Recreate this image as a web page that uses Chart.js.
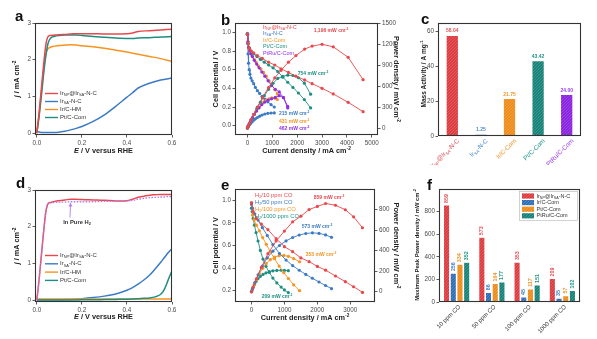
<!DOCTYPE html>
<html>
<head>
<meta charset="utf-8">
<title>Ir catalysts: HOR activity and fuel-cell performance</title>
<script src="https://cdn.jsdelivr.net/npm/chart.js@4.4.1/dist/chart.umd.min.js"></script>
<style>
  html, body { margin: 0; padding: 0; background: #fff; }
  #fig { position: relative; width: 597px; height: 339px; overflow: hidden; background: #fff; }
  #fig canvas { position: absolute; }
</style>
</head>
<body>
<div id="fig">
  <canvas id="cvA" width="200" height="165" style="left:0px;top:0px"></canvas>
  <canvas id="cvB" width="203" height="165" style="left:200px;top:0px"></canvas>
  <canvas id="cvC" width="197" height="165" style="left:400px;top:0px"></canvas>
  <canvas id="cvD" width="200" height="174" style="left:0px;top:165px"></canvas>
  <canvas id="cvE" width="203" height="174" style="left:200px;top:165px"></canvas>
  <canvas id="cvF" width="197" height="174" style="left:400px;top:165px"></canvas>
</div>
<script>
// ---------------- series names ----------------
const hmNames   = ['Ir_{NP}@Ir_{SA}-N-C', 'Ir_{SA}-N-C', 'Ir/C-HM', 'Pt/C-Com'];
const cellNames = ['Ir_{NP}@Ir_{SA}-N-C', 'Ir_{SA}-N-C', 'Ir/C-Com', 'Pt/C-Com', 'PtRu/C-Com'];
const coNames   = ['H_{2}/10 ppm CO', 'H_{2}/50 ppm CO', 'H_{2}/100 ppm CO', 'H_{2}/1000 ppm CO'];
const coCats    = ['10 ppm CO', '50 ppm CO', '100 ppm CO', '1000 ppm CO'];
const peakNames = ['Ir_{NP}@Ir_{SA}-N-C', 'Ir/C-Com', 'Pt/C-Com', 'PtRu/C-Com'];

// ---------------- (a) HOR polarisation in pure H2 ----------------
const aE      = [0, 0.01, 0.02, 0.03, 0.04, 0.05, 0.06, 0.08, 0.10, 0.125, 0.15, 0.175, 0.20, 0.25, 0.30, 0.35, 0.40, 0.425, 0.45, 0.50, 0.55, 0.60];
const aIrNP   = [0, 0.55, 1.20, 1.85, 2.40, 2.63, 2.66, 2.67, 2.68, 2.69, 2.70, 2.71, 2.71, 2.71, 2.70, 2.70, 2.71, 2.73, 2.77, 2.79, 2.81, 2.83];
const aIrSA   = [0.05, 0.03, 0.02, 0.02, 0.02, 0.02, 0.02, 0.02, 0.03, 0.05, 0.09, 0.13, 0.18, 0.32, 0.50, 0.73, 0.98, 1.10, 1.23, 1.36, 1.45, 1.50];
const aIrCHM  = [0, 0.50, 1.10, 1.70, 2.15, 2.30, 2.34, 2.37, 2.39, 2.40, 2.41, 2.40, 2.38, 2.35, 2.31, 2.26, 2.21, 2.18, 2.15, 2.09, 2.03, 1.95];
const aPtC    = [0, 0.45, 1.00, 1.60, 2.10, 2.45, 2.58, 2.64, 2.66, 2.67, 2.67, 2.67, 2.66, 2.63, 2.61, 2.59, 2.58, 2.58, 2.59, 2.60, 2.62, 2.63];
const aXTicks = [0, 0.2, 0.4, 0.6];
const aYTicks = [0, 1, 2, 3];

// ---------------- (b) H2-O2 single cell: polarisation + power ----------------
const bRedI    = [0, 30, 80, 150, 250, 400, 600, 850, 1100, 1350, 1650, 1950, 2300, 2600, 3000, 3450, 4050, 4650];
const bRedV    = [0.98, 0.88, 0.83, 0.80, 0.78, 0.75, 0.72, 0.68, 0.65, 0.61, 0.57, 0.53, 0.49, 0.45, 0.40, 0.34, 0.25, 0.15];
const bRedP    = [0, 26, 66, 120, 195, 300, 432, 578, 715, 824, 940, 1034, 1127, 1170, 1196, 1160, 1010, 690];
const bBlueI   = [0, 10, 25, 45, 70, 100, 140, 190, 250, 320, 400, 490, 590, 700, 820, 950, 1080];
const bBlueV   = [0.99, 0.88, 0.77, 0.67, 0.60, 0.55, 0.51, 0.48, 0.45, 0.41, 0.375, 0.345, 0.315, 0.285, 0.255, 0.225, 0.20];
const bBlueP   = [0, 9, 19, 30, 42, 55, 71, 91, 112, 131, 150, 169, 186, 200, 209, 214, 215];
const bOrangeI = [0, 20, 50, 90, 140, 200, 270, 350, 440, 540, 650, 760, 870, 980, 1100, 1200];
const bOrangeV = [0.98, 0.90, 0.84, 0.80, 0.77, 0.74, 0.71, 0.68, 0.64, 0.61, 0.57, 0.53, 0.48, 0.44, 0.385, 0.34];
const bOrangeP = [0, 18, 42, 72, 108, 148, 192, 238, 282, 329, 371, 403, 418, 431, 424, 408];
const bTealI   = [0, 30, 80, 150, 250, 380, 520, 680, 850, 1030, 1220, 1420, 1620, 1830, 2050, 2290, 2540];
const bTealV   = [0.98, 0.88, 0.83, 0.80, 0.77, 0.74, 0.71, 0.68, 0.65, 0.62, 0.58, 0.52, 0.465, 0.41, 0.35, 0.28, 0.19];
const bTealP   = [0, 26, 66, 120, 193, 281, 369, 462, 553, 639, 708, 738, 754, 750, 718, 641, 483];
const bPurpI   = [0, 20, 50, 90, 140, 200, 280, 370, 470, 580, 700, 830, 970, 1120, 1280, 1450, 1620];
const bPurpV   = [0.98, 0.90, 0.84, 0.80, 0.77, 0.74, 0.70, 0.66, 0.62, 0.575, 0.53, 0.48, 0.43, 0.39, 0.361, 0.30, 0.19];
const bPurpP   = [0, 18, 42, 72, 108, 148, 196, 244, 291, 334, 371, 398, 417, 437, 462, 435, 308];
const bXTicks  = [0, 1000, 2000, 3000, 4000, 5000];
const bVTicks  = [0, 0.2, 0.4, 0.6, 0.8, 1.0];
const bPTicks  = [0, 300, 600, 900, 1200, 1500];

// ---------------- (c) mass activity ----------------
const cCats   = ['Ir_{NP}@Ir_{SA}-N-C', 'Ir_{SA}-N-C', 'Ir/C-Com', 'Pt/C-Com', 'PtRu/C-Com'];
const cValues = [58.04, 1.25, 21.75, 43.42, 24.00];
const cYTicks = [0, 20, 40, 60];

// ---------------- (d) HOR polarisation with CO ----------------
const dE      = [0, 0.01, 0.02, 0.03, 0.04, 0.05, 0.06, 0.08, 0.10, 0.125, 0.15, 0.175, 0.20, 0.25, 0.30, 0.35, 0.40, 0.425, 0.45, 0.475, 0.50, 0.525, 0.55, 0.565, 0.58, 0.59, 0.60];
const dIrNP   = [0, 0.55, 1.20, 1.85, 2.40, 2.63, 2.66, 2.69, 2.71, 2.73, 2.75, 2.75, 2.74, 2.73, 2.72, 2.70, 2.71, 2.75, 2.80, 2.83, 2.86, 2.87, 2.88, 2.88, 2.88, 2.88, 2.88];
const dPureH2 = [0, 0.55, 1.20, 1.85, 2.40, 2.62, 2.65, 2.66, 2.67, 2.67, 2.68, 2.68, 2.68, 2.68, 2.69, 2.69, 2.70, 2.72, 2.75, 2.77, 2.79, 2.80, 2.81, 2.81, 2.82, 2.82, 2.82];
const dIrSA   = [0.01, 0.01, 0.01, 0.01, 0.01, 0.01, 0.01, 0.01, 0.01, 0.015, 0.02, 0.03, 0.04, 0.07, 0.11, 0.17, 0.27, 0.34, 0.44, 0.55, 0.68, 0.85, 1.03, 1.15, 1.27, 1.34, 1.40];
const dIrCHM  = [0.03, 0.03, 0.03, 0.03, 0.03, 0.03, 0.03, 0.03, 0.03, 0.03, 0.03, 0.03, 0.03, 0.03, 0.03, 0.03, 0.03, 0.03, 0.03, 0.03, 0.03, 0.03, 0.03, 0.03, 0.03, 0.03, 0.03];
const dPtC    = [0, 0.005, 0.005, 0.005, 0.005, 0.005, 0.005, 0.005, 0.005, 0.005, 0.005, 0.005, 0.01, 0.01, 0.015, 0.02, 0.025, 0.03, 0.04, 0.05, 0.06, 0.09, 0.16, 0.28, 0.50, 0.66, 0.80];

// ---------------- (e) Ir_NP@Ir_SA-N-C cell with CO-containing H2 ----------------
const eRedI    = [0, 50, 150, 300, 500, 750, 1000, 1250, 1500, 1750, 2000, 2250, 2550, 2850, 3100, 3370];
const eRedV    = [0.98, 0.90, 0.84, 0.79, 0.74, 0.66, 0.59, 0.545, 0.49, 0.457, 0.415, 0.382, 0.33, 0.28, 0.235, 0.185];
const eRedP    = [0, 45, 126, 237, 370, 495, 590, 680, 735, 800, 830, 859, 842, 798, 729, 623];
const eBlueI   = [0, 30, 100, 200, 330, 480, 650, 850, 1050, 1250, 1450, 1650, 1850, 2050, 2250, 2430];
const eBlueV   = [0.97, 0.93, 0.88, 0.825, 0.758, 0.688, 0.608, 0.529, 0.471, 0.422, 0.381, 0.344, 0.31, 0.277, 0.246, 0.218];
const eBlueP   = [0, 28, 88, 165, 250, 330, 395, 450, 495, 528, 552, 567, 573, 568, 553, 530];
const eOrangeI = [0, 30, 80, 150, 240, 340, 450, 570, 700, 840, 980, 1120, 1280, 1460];
const eOrangeV = [0.96, 0.87, 0.825, 0.78, 0.73, 0.67, 0.61, 0.547, 0.483, 0.418, 0.36, 0.308, 0.252, 0.20];
const eOrangeP = [0, 26, 66, 117, 175, 228, 275, 312, 338, 351, 353, 345, 323, 292];
const eTealI   = [0, 20, 50, 90, 140, 200, 270, 350, 440, 540, 650, 770, 900, 1000, 1120];
const eTealV   = [0.93, 0.90, 0.84, 0.78, 0.714, 0.64, 0.556, 0.48, 0.416, 0.361, 0.312, 0.269, 0.232, 0.207, 0.183];
const eTealP   = [0, 18, 42, 70, 100, 128, 150, 168, 183, 195, 203, 207, 209, 207, 205];
const eXTicks  = [0, 1000, 2000, 3000];
const eVTicks  = [0.2, 0.4, 0.6, 0.8, 1.0];
const ePTicks  = [0, 200, 400, 600, 800];

// ---------------- (f) peak power density vs CO level ----------------
const fIrNP   = [859, 573, 353, 209];
const fIrC    = [256, 86, 45, 35];
const fPtC    = [334, 164, 117, 57];
const fPtRuC  = [352, 177, 151, 102];
const fYTicks = [0, 200, 400, 600, 800];

// ---------------- styling ----------------
const FONT = '"Liberation Sans", Arial, Helvetica, sans-serif';
const INK = '#333333';
const TICK = '#4a4a4a';
const RED = '#e8474c', BLUE = '#3b7bc6', ORANGE = '#f7931e', TEAL = '#1d8f82', PURPLE = '#8f2ee6', LILAC = '#b47cf3';
const BAR = { red: '#dd3c41', blue: '#2f6fb7', orange: '#ee8c1c', teal: '#188378', purple: '#8a24df' };

// panel boxes (page coordinates) and plot areas inside them
const G = {
  a: { box: { x: 0,   y: 0,   w: 200, h: 165 }, area: { l: 35,  t: 23,  r: 172, b: 135 } },
  b: { box: { x: 200, y: 0,   w: 203, h: 165 }, area: { l: 235, t: 23,  r: 378, b: 135 } },
  c: { box: { x: 400, y: 0,   w: 197, h: 165 }, area: { l: 438, t: 23,  r: 581, b: 136 } },
  d: { box: { x: 0,   y: 165, w: 200, h: 174 }, area: { l: 35,  t: 190, r: 172, b: 302 } },
  e: { box: { x: 200, y: 165, w: 203, h: 174 }, area: { l: 235, t: 189, r: 375, b: 302 } },
  f: { box: { x: 400, y: 165, w: 197, h: 174 }, area: { l: 439, t: 189, r: 580, b: 302 } }
};

// ---------------- rich text (sub/superscripts, italics) ----------------
function fontStr(size, bold, italic) {
  return (italic ? 'italic ' : '') + (bold ? 'bold ' : '') + size + 'px ' + FONT;
}
function parseRich(s) {
  const out = []; let buf = ''; let i = 0;
  while (i < s.length) {
    const ch = s[i];
    if ((ch === '_' || ch === '^' || ch === '*') && s[i + 1] === '{') {
      if (buf) { out.push({ t: buf, m: 0 }); buf = ''; }
      const j = s.indexOf('}', i);
      out.push({ t: s.slice(i + 2, j), m: ch === '_' ? 1 : ch === '^' ? 2 : 3 });
      i = j + 1;
    } else { buf += ch; i++; }
  }
  if (buf) out.push({ t: buf, m: 0 });
  return out;
}
function drawRich(ctx, s, x, y, o) {
  const size = o.size || 6, bold = !!o.bold, align = o.align || 'left';
  ctx.save();
  ctx.translate(x, y);
  if (o.rot) ctx.rotate(o.rot);
  ctx.fillStyle = o.color || '#222';
  ctx.textBaseline = 'middle';
  ctx.textAlign = 'left';
  let w = 0;
  const items = parseRich(s).map(sg => {
    const small = sg.m === 1 || sg.m === 2;
    const f = fontStr(small ? size * 0.66 : size, bold, sg.m === 3);
    ctx.font = f;
    const ww = ctx.measureText(sg.t).width;
    const it = { t: sg.t, f, x: w, dy: sg.m === 1 ? size * 0.3 : sg.m === 2 ? -size * 0.34 : 0 };
    w += ww;
    return it;
  });
  const x0 = align === 'center' ? -w / 2 : align === 'right' ? -w : 0;
  items.forEach(it => { ctx.font = it.f; ctx.fillText(it.t, x0 + it.x, it.dy); });
  ctx.restore();
  return w;
}
function letter(ctx, ch, x, y) {
  ctx.save();
  ctx.font = fontStr(15, true, false);
  ctx.fillStyle = '#111';
  ctx.textBaseline = 'alphabetic';
  ctx.fillText(ch, x, y);
  ctx.restore();
}

// ---------------- helpers ----------------
function pts(xs, ys) { return xs.map((x, i) => ({ x: x, y: ys[i] })); }

function axisCommon(ticks, fmt) {
  return {
    grid: { display: true, drawOnChartArea: false, drawTicks: true, tickLength: 2.5, tickColor: INK, tickWidth: 0.8 },
    border: { display: false },
    ticks: { color: TICK, font: { family: FONT, size: 6.3 }, padding: 1.5, autoSkip: false, maxRotation: 0, minRotation: 0, callback: fmt },
    afterBuildTicks: s => { s.ticks = ticks.map(v => ({ value: v })); }
  };
}
function yAxis(pos, min, max, ticks, fmt, width) {
  return Object.assign(axisCommon(ticks, fmt), {
    type: 'linear', position: pos, min: min, max: max,
    afterFit: s => { s.width = width; }
  });
}
function xAxis(min, max, ticks, fmt, height) {
  return Object.assign(axisCommon(ticks, fmt), {
    type: 'linear', position: 'bottom', min: min, max: max,
    afterFit: s => { s.height = height; }
  });
}
function catAxis(height) {
  return {
    type: 'category', position: 'bottom', offset: true,
    grid: { display: false }, border: { display: false },
    ticks: { display: false },
    afterFit: s => { s.height = height; }
  };
}

const framePlugin = {
  id: 'frame',
  afterDraw(chart) {
    const a = chart.chartArea, ctx = chart.ctx;
    ctx.save();
    ctx.strokeStyle = INK;
    ctx.lineWidth = 1.1;
    ctx.strokeRect(Math.round(a.left) + 0.5, Math.round(a.top) + 0.5,
                   Math.round(a.right - a.left) - 1, Math.round(a.bottom - a.top) - 1);
    ctx.restore();
  }
};
function textPlugin(g, draw) {
  return {
    id: 'panelText',
    afterDraw(chart) {
      const ctx = chart.ctx;
      ctx.save();
      ctx.translate(-g.box.x, -g.box.y);
      draw(chart, ctx);
      ctx.restore();
    }
  };
}
function baseOptions(g, scales, hasRight) {
  return {
    responsive: false, animation: false, devicePixelRatio: 1,
    layout: { padding: { left: 0, bottom: 0, top: g.area.t - g.box.y, right: hasRight ? 0 : (g.box.x + g.box.w - g.area.r) } },
    plugins: { legend: { display: false }, tooltip: { enabled: false } },
    scales: scales
  };
}
function texture(color) {
  const c = document.createElement('canvas');
  c.width = 3; c.height = 3;
  const g = c.getContext('2d');
  g.fillStyle = color; g.fillRect(0, 0, 3, 3);
  g.fillStyle = 'rgba(255,255,255,0.16)';
  g.fillRect(0, 0, 1, 1); g.fillRect(2, 1, 1, 1); g.fillRect(1, 2, 1, 1);
  return g.createPattern(c, 'repeat');
}
function smooth(label, xs, ys, color, extra) {
  return Object.assign({
    label: label, data: pts(xs, ys), borderColor: color, backgroundColor: color,
    borderWidth: 1.5, pointRadius: 0, cubicInterpolationMode: 'monotone', fill: false
  }, extra || {});
}
function marked(label, xs, ys, color, axis) {
  return {
    label: label, data: pts(xs, ys), yAxisID: axis, borderColor: color, backgroundColor: color,
    borderWidth: 0.9, pointRadius: 1.6, pointBorderWidth: 0, pointBackgroundColor: color, tension: 0, fill: false
  };
}
function hLegend(ctx, names, colors, x, y0, dy, dashes) {
  names.forEach((n, i) => {
    const y = y0 + i * dy;
    ctx.save();
    ctx.strokeStyle = colors[i]; ctx.lineWidth = 1.4;
    if (dashes && dashes[i]) ctx.setLineDash(dashes[i]);
    ctx.beginPath(); ctx.moveTo(x, y); ctx.lineTo(x + 13, y); ctx.stroke();
    ctx.restore();
    drawRich(ctx, n, x + 15, y, { size: 6, color: '#333' });
  });
}
const f1 = v => v.toFixed(1);
const f0 = v => String(v);
const mw = v => v.toLocaleString('en-US') + ' mW cm^{-2}';

// ---------------- (a) ----------------
new Chart(document.getElementById('cvA'), {
  type: 'line',
  data: { datasets: [
    smooth(hmNames[0], aE, aIrNP, RED),
    smooth(hmNames[3], aE, aPtC, TEAL),
    smooth(hmNames[2], aE, aIrCHM, ORANGE),
    smooth(hmNames[1], aE, aIrSA, BLUE)
  ] },
  options: baseOptions(G.a, {
    x: xAxis(-0.008, 0.6, aXTicks, f1, G.a.box.y + G.a.box.h - G.a.area.b),
    y: yAxis('left', -0.05, 3, aYTicks, f0, G.a.area.l - G.a.box.x)
  }, false),
  plugins: [framePlugin, textPlugin(G.a, (chart, ctx) => {
    letter(ctx, 'a', 15, 21);
    hLegend(ctx, hmNames, [RED, BLUE, ORANGE, TEAL], 45, 93.5, 8);
    drawRich(ctx, '*{E} / V versus RHE', 103.5, 150.5, { size: 7.3, bold: true, align: 'center', color: '#222' });
    drawRich(ctx, '*{j} / mA cm^{-2}', 17, 79, { size: 7.3, bold: true, align: 'center', rot: -Math.PI / 2, color: '#222' });
  })]
});

// ---------------- (b) ----------------
new Chart(document.getElementById('cvB'), {
  type: 'line',
  data: { datasets: [
    marked(cellNames[0], bRedI, bRedV, RED, 'y'),
    marked(cellNames[0], bRedI, bRedP, RED, 'y1'),
    marked(cellNames[3], bTealI, bTealV, TEAL, 'y'),
    marked(cellNames[3], bTealI, bTealP, TEAL, 'y1'),
    marked(cellNames[4], bPurpI, bPurpV, PURPLE, 'y'),
    marked(cellNames[4], bPurpI, bPurpP, PURPLE, 'y1'),
    marked(cellNames[2], bOrangeI, bOrangeV, ORANGE, 'y'),
    marked(cellNames[2], bOrangeI, bOrangeP, ORANGE, 'y1'),
    marked(cellNames[1], bBlueI, bBlueV, BLUE, 'y'),
    marked(cellNames[1], bBlueI, bBlueP, BLUE, 'y1')
  ] },
  options: baseOptions(G.b, {
    x: xAxis(-500, 5250, bXTicks, f0, G.b.box.y + G.b.box.h - G.b.area.b),
    y: yAxis('left', -0.1, 1.1, bVTicks, f1, G.b.area.l - G.b.box.x),
    y1: yAxis('right', -100, 1500, bPTicks, f0, G.b.box.x + G.b.box.w - G.b.area.r)
  }, true),
  plugins: [framePlugin, textPlugin(G.b, (chart, ctx) => {
    letter(ctx, 'b', 221, 25);
    const cols = [RED, BLUE, ORANGE, TEAL, PURPLE];
    cellNames.forEach((n, i) => drawRich(ctx, n, 263, 27 + i * 6.6, { size: 5.5, color: cols[i] }));
    drawRich(ctx, mw(Math.max(...bRedP)), 331, 31, { size: 5, bold: true, color: RED, align: 'center' });
    drawRich(ctx, mw(Math.max(...bTealP)), 313, 74, { size: 5, bold: true, color: TEAL, align: 'center' });
    drawRich(ctx, mw(Math.max(...bBlueP)), 279, 114, { size: 5, bold: true, color: BLUE });
    drawRich(ctx, mw(Math.max(...bOrangeP)), 279, 121.5, { size: 5, bold: true, color: ORANGE });
    drawRich(ctx, mw(Math.max(...bPurpP)), 279, 129, { size: 5, bold: true, color: PURPLE });
    drawRich(ctx, 'Current density / mA cm^{-2}', 306.5, 151, { size: 7.3, bold: true, align: 'center', color: '#222' });
    drawRich(ctx, 'Cell potential / V', 216, 79, { size: 7.3, bold: true, align: 'center', rot: -Math.PI / 2, color: '#222' });
    drawRich(ctx, 'Power density / mW cm^{-2}', 396, 79, { size: 7.3, bold: true, align: 'center', rot: Math.PI / 2, color: '#222' });
  })]
});

// ---------------- (c) ----------------
const cBarCols = [BAR.red, BAR.blue, BAR.orange, BAR.teal, BAR.purple];
const cTextCols = ['#e2545a', '#4d8cd0', '#f0952a', '#1f9486', '#9a3cf0'];
new Chart(document.getElementById('cvC'), {
  type: 'bar',
  data: { labels: cCats, datasets: [{
    label: 'Mass activity', data: cValues,
    backgroundColor: cBarCols.map(texture),
    borderColor: 'rgba(255,255,255,0.35)', borderWidth: 0.8,
    categoryPercentage: 1, barPercentage: 0.45
  }] },
  options: baseOptions(G.c, {
    x: catAxis(G.c.box.y + G.c.box.h - G.c.area.b),
    y: yAxis('left', 0, 65, cYTicks, f0, G.c.area.l - G.c.box.x)
  }, false),
  plugins: [framePlugin, textPlugin(G.c, (chart, ctx) => {
    letter(ctx, 'c', 421, 23.5);
    const meta = chart.getDatasetMeta(0);
    const ox = G.c.box.x, oy = G.c.box.y;
    meta.data.forEach((bar, i) => {
      drawRich(ctx, cValues[i].toFixed(2), bar.x + ox, bar.y + oy - 4, { size: 5, bold: true, color: cTextCols[i], align: 'center' });
      drawRich(ctx, cCats[i], bar.x + ox + 6, chart.chartArea.bottom + oy + 4, { size: 6.3, color: cTextCols[i], align: 'right', rot: -Math.PI / 4 });
    });
    drawRich(ctx, 'Mass Activity / A mg^{-1}', 424, 74, { size: 6.5, bold: true, align: 'center', rot: -Math.PI / 2, color: '#222' });
  })]
});

// ---------------- (d) ----------------
new Chart(document.getElementById('cvD'), {
  type: 'line',
  data: { datasets: [
    smooth('In Pure H2', dE, dPureH2, LILAC, { borderDash: [1.6, 1.4], borderWidth: 1.3 }),
    smooth(hmNames[0], dE, dIrNP, RED),
    smooth(hmNames[3], dE, dPtC, TEAL),
    smooth(hmNames[2], dE, dIrCHM, ORANGE),
    smooth(hmNames[1], dE, dIrSA, BLUE)
  ] },
  options: baseOptions(G.d, {
    x: xAxis(-0.008, 0.6, aXTicks, f1, G.d.box.y + G.d.box.h - G.d.area.b),
    y: yAxis('left', -0.05, 3, aYTicks, f0, G.d.area.l - G.d.box.x)
  }, false),
  plugins: [framePlugin, textPlugin(G.d, (chart, ctx) => {
    letter(ctx, 'd', 16, 188);
    hLegend(ctx, hmNames, [RED, BLUE, ORANGE, TEAL], 45, 255.5, 8.3);
    // arrow pointing to the pure-H2 curve
    ctx.save();
    ctx.strokeStyle = LILAC; ctx.fillStyle = LILAC; ctx.lineWidth = 0.9;
    ctx.beginPath(); ctx.moveTo(70, 217.5); ctx.lineTo(70.5, 205); ctx.stroke();
    ctx.beginPath(); ctx.moveTo(70.5, 202.5); ctx.lineTo(68.6, 206.5); ctx.lineTo(72.4, 206.5); ctx.closePath(); ctx.fill();
    ctx.restore();
    drawRich(ctx, 'In Pure H_{2}', 77, 222, { size: 5.8, bold: true, align: 'center', color: '#333' });
    drawRich(ctx, '*{E} / V versus RHE', 103.5, 317, { size: 7.3, bold: true, align: 'center', color: '#222' });
    drawRich(ctx, '*{j} / mA cm^{-2}', 17, 246, { size: 7.3, bold: true, align: 'center', rot: -Math.PI / 2, color: '#222' });
  })]
});

// ---------------- (e) ----------------
new Chart(document.getElementById('cvE'), {
  type: 'line',
  data: { datasets: [
    marked(coNames[0], eRedI, eRedV, RED, 'y'),
    marked(coNames[0], eRedI, eRedP, RED, 'y1'),
    marked(coNames[1], eBlueI, eBlueV, BLUE, 'y'),
    marked(coNames[1], eBlueI, eBlueP, BLUE, 'y1'),
    marked(coNames[2], eOrangeI, eOrangeV, ORANGE, 'y'),
    marked(coNames[2], eOrangeI, eOrangeP, ORANGE, 'y1'),
    marked(coNames[3], eTealI, eTealV, TEAL, 'y'),
    marked(coNames[3], eTealI, eTealP, TEAL, 'y1')
  ] },
  options: baseOptions(G.e, {
    x: xAxis(-500, 3750, eXTicks, f0, G.e.box.y + G.e.box.h - G.e.area.b),
    y: yAxis('left', 0.1, 1.1, eVTicks, f1, G.e.area.l - G.e.box.x),
    y1: yAxis('right', -100, 1000, ePTicks, f0, G.e.box.x + G.e.box.w - G.e.area.r)
  }, true),
  plugins: [framePlugin, textPlugin(G.e, (chart, ctx) => {
    letter(ctx, 'e', 221, 190);
    const cols = [RED, BLUE, ORANGE, TEAL];
    coNames.forEach((n, i) => drawRich(ctx, n, 255, 195.5 + i * 7, { size: 5.8, color: cols[i] }));
    drawRich(ctx, mw(Math.max(...eRedP)), 329, 198, { size: 5, bold: true, color: RED, align: 'center' });
    drawRich(ctx, mw(Math.max(...eBlueP)), 317, 227, { size: 5, bold: true, color: BLUE, align: 'center' });
    drawRich(ctx, mw(Math.max(...eOrangeP)), 321, 255, { size: 5, bold: true, color: ORANGE, align: 'center' });
    drawRich(ctx, mw(Math.max(...eTealP)), 277, 297, { size: 5, bold: true, color: TEAL, align: 'center' });
    drawRich(ctx, 'Current density / mA cm^{-2}', 305, 318, { size: 7.3, bold: true, align: 'center', color: '#222' });
    drawRich(ctx, 'Cell potential / V', 216, 245.5, { size: 7.3, bold: true, align: 'center', rot: -Math.PI / 2, color: '#222' });
    drawRich(ctx, 'Power density / mW cm^{-2}', 396, 245.5, { size: 7.3, bold: true, align: 'center', rot: Math.PI / 2, color: '#222' });
  })]
});

// ---------------- (f) ----------------
const fSeries = [fIrNP, fIrC, fPtC, fPtRuC];
const fCols = [BAR.red, BAR.blue, BAR.orange, BAR.teal];
const fTextCols = ['#e2545a', '#3f80c8', '#f0952a', '#1f9486'];
new Chart(document.getElementById('cvF'), {
  type: 'bar',
  data: { labels: coCats, datasets: fSeries.map((s, i) => ({
    label: peakNames[i], data: s,
    backgroundColor: texture(fCols[i]),
    borderColor: 'rgba(255,255,255,0.5)', borderWidth: 0.6,
    categoryPercentage: 0.76, barPercentage: 0.94
  })) },
  options: baseOptions(G.f, {
    x: catAxis(G.f.box.y + G.f.box.h - G.f.area.b),
    y: yAxis('left', 0, 1000, fYTicks, f0, G.f.area.l - G.f.box.x)
  }, false),
  plugins: [framePlugin, textPlugin(G.f, (chart, ctx) => {
    letter(ctx, 'f', 427, 190);
    const ox = G.f.box.x, oy = G.f.box.y;
    fSeries.forEach((s, k) => {
      chart.getDatasetMeta(k).data.forEach((bar, i) => {
        drawRich(ctx, String(s[i]), bar.x + ox, bar.y + oy - 2, { size: 5.3, bold: true, color: fTextCols[k], rot: -Math.PI / 2 });
      });
    });
    const m0 = chart.getDatasetMeta(0).data, m3 = chart.getDatasetMeta(3).data;
    coCats.forEach((c, i) => {
      const cx = (m0[i].x + m3[i].x) / 2 + ox;
      drawRich(ctx, c, cx + 3, chart.chartArea.bottom + oy + 4, { size: 6, color: '#333', align: 'right', rot: -Math.PI / 4 });
    });
    // legend with a light frame
    ctx.save();
    ctx.strokeStyle = '#b5b5b5'; ctx.lineWidth = 0.6;
    ctx.strokeRect(519.5, 191.5, 58, 29);
    ctx.restore();
    peakNames.forEach((n, i) => {
      const y = 196 + i * 6.6;
      ctx.fillStyle = texture(fCols[i]);
      ctx.fillRect(522, y - 2.6, 12, 5.2);
      drawRich(ctx, n, 536.5, y, { size: 5.5, color: '#333' });
    });
    drawRich(ctx, 'Maximum Peak Power density / mW cm^{-2}', 417, 245, { size: 5.8, bold: true, align: 'center', rot: -Math.PI / 2, color: '#222' });
  })]
});
</script>
</body>
</html>
